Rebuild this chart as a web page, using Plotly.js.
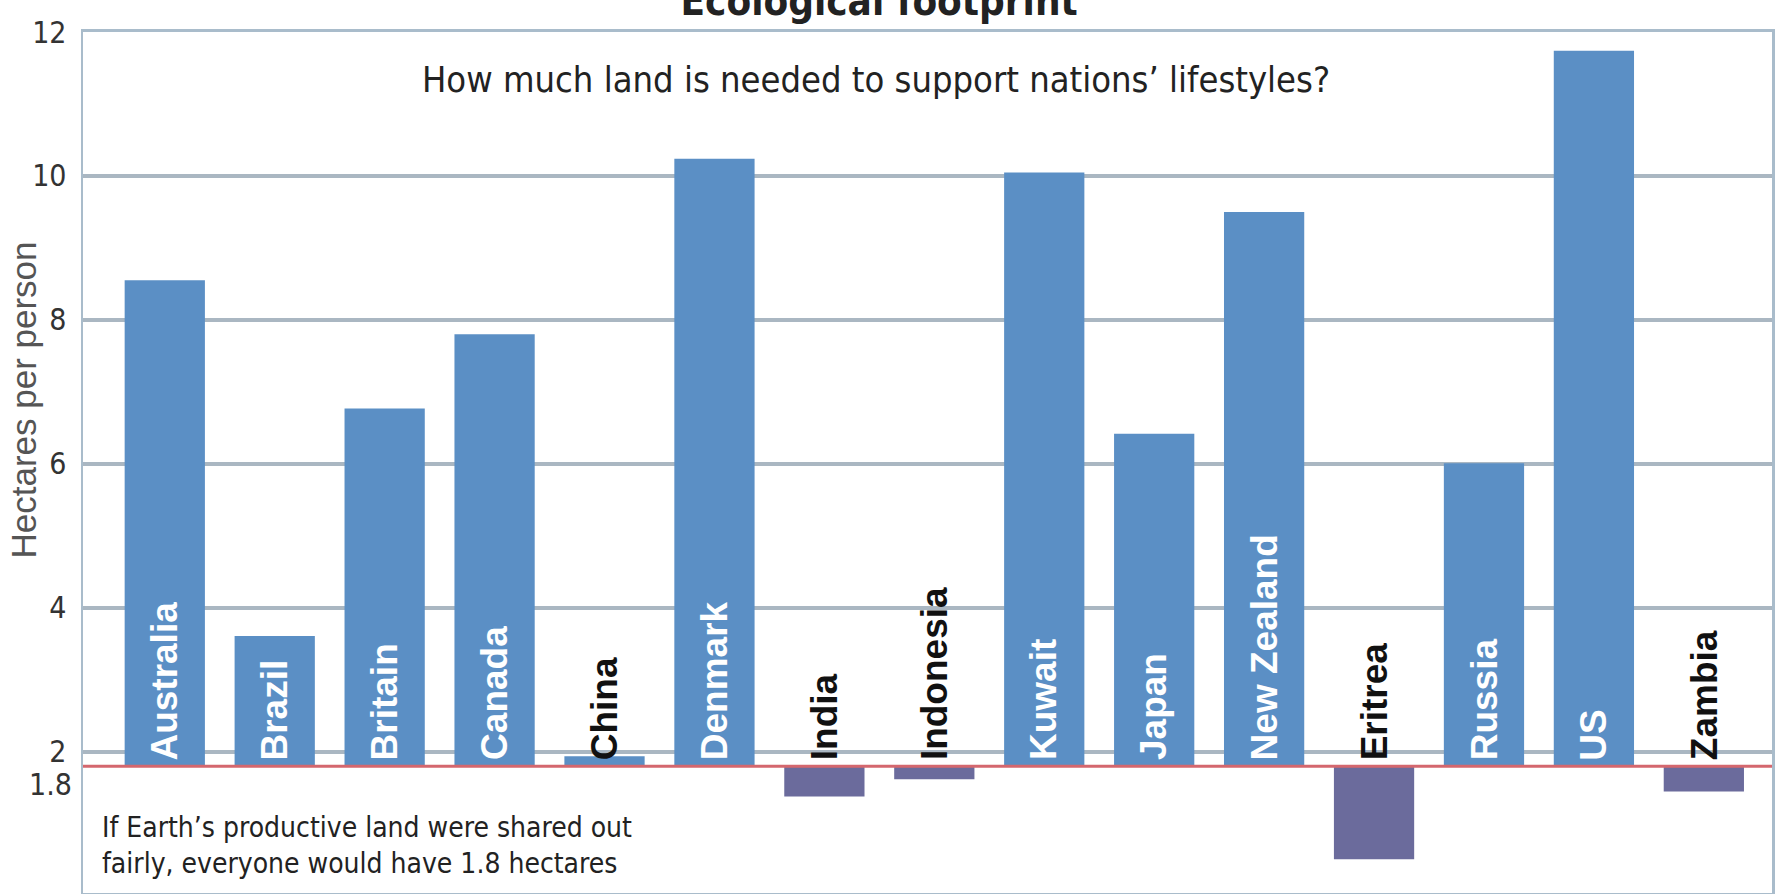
<!DOCTYPE html>
<html>
<head>
<meta charset="utf-8">
<script src="https://cdn.plot.ly/plotly-3.0.1.min.js"></script>
<style>
  html, body { margin: 0; padding: 0; background: #ffffff; }
  #chart { width: 1776px; height: 894px; }
</style>
</head>
<body>
<div id="chart"></div>
<script>
// ---- data ----
const countries = ['Australia', 'Brazil', 'Britain', 'Canada', 'China', 'Denmark', 'India',
  'Indonesia', 'Kuwait', 'Japan', 'New Zealand', 'Eritrea', 'Russia', 'US', 'Zambia'];
const hectaresPerPerson = [8.55, 3.61, 6.77, 7.80, 1.94, 10.24, 1.38, 1.62, 10.05, 6.42,
  9.50, 0.51, 6.01, 11.74, 1.45];
const fairShare = 1.8;
const yTickValues = [2, 4, 6, 8, 10, 12];
const yTickLabels = ['2', '4', '6', '8', '10', '12'];
const chartTitle = 'Ecological footprint';
const chartSubtitle = 'How much land is needed to support nations’ lifestyles?';
const yAxisTitle = 'Hectares per person';
const noteText = 'If Earth’s productive land were shared out<br>fairly, everyone would have 1.8 hectares';

// ---- styling ----
const NARROW = '"Liberation Sans Narrow", "Arial Narrow", "DejaVu Sans Condensed", "Liberation Sans", Arial, sans-serif';
const SANS = '"Liberation Sans", Arial, sans-serif';
const overColor = '#5b8fc5';
const underColor = '#6b6b9c';
const gridColor = '#aab7c2';
const frameColor = '#a9bccb';

const barColors = hectaresPerPerson.map(v => v >= fairShare ? overColor : underColor);

const trace = {
  type: 'bar',
  x: countries,
  y: hectaresPerPerson.map(v => v - fairShare),
  base: fairShare,
  marker: { color: barColors, line: { width: 0 } },
  hoverinfo: 'x+text',
  text: hectaresPerPerson.map(v => v.toFixed(2)),
  textposition: 'none',
  showlegend: false
};

const annotations = [];
countries.forEach((c, i) => {
  const v = hectaresPerPerson[i];
  annotations.push({
    x: c, xref: 'x', y: fairShare, yref: 'y',
    text: c, textangle: -90, showarrow: false,
    xanchor: 'center', yanchor: 'bottom', yshift: 4,
    font: { family: SANS, size: 37, weight: 700, color: v > fairShare + 1 ? '#ffffff' : '#111111' }
  });
});
annotations.push({
  x: 0, xref: 'paper', xanchor: 'right', xshift: -9,
  y: fairShare, yref: 'y', yanchor: 'middle', yshift: -18,
  text: String(fairShare), showarrow: false,
  font: { family: NARROW, size: 30, color: '#333333' }
});
annotations.push({
  x: -0.0355, xref: 'paper', xanchor: 'center',
  y: 0.572, yref: 'paper', yanchor: 'middle',
  text: yAxisTitle, textangle: -90, showarrow: false,
  font: { family: SANS, size: 35, color: '#555555' }
});
annotations.push({
  x: 0.4695, xref: 'paper', xanchor: 'center',
  y: 0.945, yref: 'paper', yanchor: 'middle',
  text: chartSubtitle, showarrow: false,
  font: { family: NARROW, size: 36, color: '#222222' }
});
annotations.push({
  x: 0.01, xref: 'paper', xanchor: 'left',
  y: 0.0557, yref: 'paper', yanchor: 'middle',
  text: noteText, showarrow: false, align: 'left',
  font: { family: NARROW, size: 28, color: '#222222' }
});

const layout = {
  width: 1776, height: 894,
  margin: { l: 83, r: 4, t: 32, b: 1, pad: 0 },
  paper_bgcolor: '#ffffff', plot_bgcolor: '#ffffff',
  title: {
    text: chartTitle, x: 0.495, xref: 'container', xanchor: 'center',
    y: 0.983, yref: 'container', yanchor: 'bottom', automargin: false,
    font: { family: NARROW, size: 40, weight: 700, color: '#222222' }
  },
  bargap: 0.27,
  xaxis: {
    type: 'category', range: [-0.744, 14.62],
    showticklabels: false, ticks: '', showgrid: false, zeroline: false,
    showline: true, linecolor: frameColor, linewidth: 3, mirror: true
  },
  yaxis: {
    range: [0.04, 12], tickvals: yTickValues, ticktext: yTickLabels,
    ticks: '', ticklabelstandoff: 8,
    tickfont: { family: NARROW, size: 30, color: '#333333' },
    showgrid: true, gridcolor: gridColor, gridwidth: 3.5, zeroline: false,
    showline: true, linecolor: frameColor, linewidth: 2.5, mirror: true
  },
  shapes: [{
    type: 'line', xref: 'paper', x0: 0, x1: 1, yref: 'y', y0: fairShare, y1: fairShare,
    line: { color: '#d4676e', width: 3 }, layer: 'above'
  }],
  annotations: annotations
};

Plotly.newPlot('chart', [trace], layout, { displayModeBar: false, staticPlot: true });
</script>
</body>
</html>
